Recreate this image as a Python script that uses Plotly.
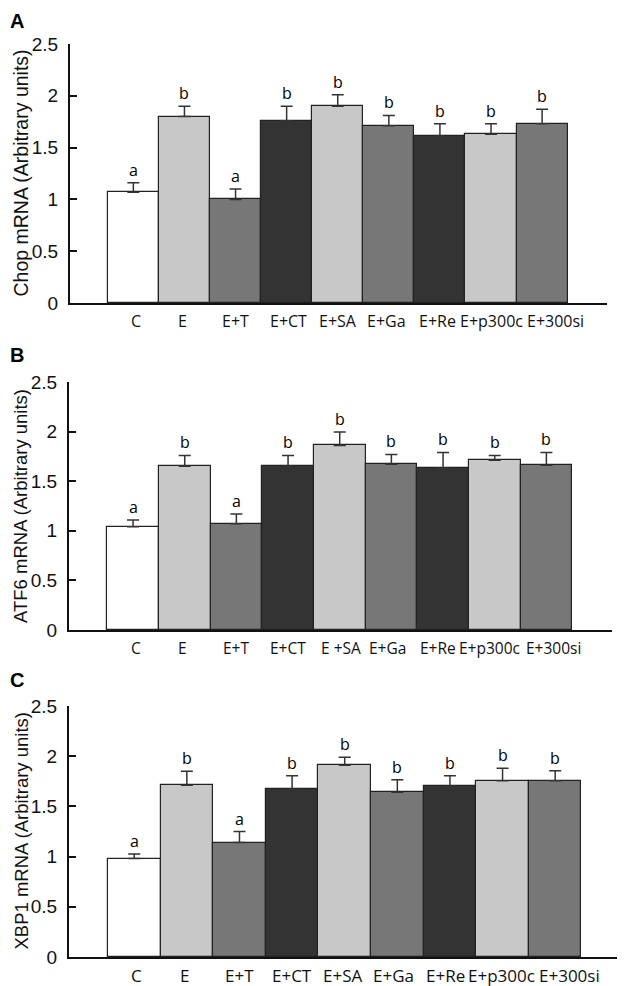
import plotly.graph_objects as go

# ── data ──────────────────────────────────────────────────────────────────────
groups = ["C", "E", "E+T", "E+CT", "E+SA", "E+Ga", "E+Re", "E+p300c", "E+300si"]
groups_b = ["C", "E", "E+T", "E+CT", "E +SA", "E+Ga", "E+Re", "E+p300c", "E+300si"]

chop = [1.07, 1.80, 1.00, 1.76, 1.90, 1.71, 1.61, 1.63, 1.73]
chop_err = [0.09, 0.10, 0.10, 0.14, 0.11, 0.10, 0.12, 0.10, 0.14]

atf6 = [1.04, 1.65, 1.07, 1.65, 1.86, 1.67, 1.63, 1.71, 1.66]
atf6_err = [0.07, 0.11, 0.10, 0.11, 0.135, 0.10, 0.16, 0.05, 0.13]

xbp1 = [0.98, 1.71, 1.14, 1.67, 1.91, 1.64, 1.70, 1.755, 1.755]
xbp1_err = [0.045, 0.14, 0.11, 0.135, 0.08, 0.125, 0.105, 0.125, 0.10]

sig_letters = ["a", "b", "a", "b", "b", "b", "b", "b", "b"]

y_ticks = [0, 0.5, 1, 1.5, 2, 2.5]
y_ticktext = ["0", "0.5", "1", "1.5", "2", "2.5"]

# ── styling ───────────────────────────────────────────────────────────────────
BAR_COLORS = ["#ffffff", "#c8c8c8", "#777777", "#333333", "#c8c8c8",
              "#777777", "#333333", "#c8c8c8", "#777777"]
EDGE = "#222222"
ARIAL = "Liberation Sans, Arial, sans-serif"
MYRIAD = "Open Sans, sans-serif"

# hand-set label offsets (px) — the labels in the source aren't centred exactly
NUDGE_A = [3, -2, 0, 2, 0, -2, -2, 0, 13]
NUDGE_B = [3, -2, 0, 0, 1, -4, -5, -5, 7]
NUDGE_C = [2, -2, 0, 0, -2, -4, -4, -1, 14]

W, H = 625, 986
OFF = 8                        # page body margin
FW, FH = W - OFF, H - OFF


def px(p):
    return min(max((p - OFF) / FW, 0), 1)


def py(p):
    return min(max(1 - (p - OFF) / FH, 0), 1)


panels = [
    # tag, cats, values, errors, ytitle, x-domain px, y-domain px, tag y px, label size, title size, nudges
    ("A", groups, chop, chop_err, "Chop mRNA (Arbitrary units)", (70, 607), (44, 303), 21, 16, 19.5, NUDGE_A),
    ("B", groups_b, atf6, atf6_err, "ATF6 mRNA (Arbitrary units)", (69, 612), (382, 630), 355, 15.5, 18.5, NUDGE_B),
    ("C", groups, xbp1, xbp1_err, "XBP1 mRNA (Arbitrary units)", (69, 622), (706, 957), 680, 17, 18.5, NUDGE_C),
]

fig = go.Figure()
annotations = []
layout_axes = {}

for i, (tag, cats, vals, errs, ytitle, xdom, ydom, tag_y, lab_sz, tit_sz, nudges) in enumerate(panels, start=1):
    xa = "x" if i == 1 else f"x{i}"
    ya = "y" if i == 1 else f"y{i}"

    fig.add_trace(go.Bar(
        x=cats, y=vals,
        xaxis=xa, yaxis=ya,
        width=1.0,
        marker=dict(color=BAR_COLORS, line=dict(color=EDGE, width=1.2)),
        error_y=dict(type="data", array=errs, arrayminus=[0] * len(errs),
                     symmetric=False, color="#333333", thickness=1.5, width=6),
        showlegend=False,
        hoverinfo="x+y",
    ))

    for c, v, e, s in zip(cats, vals, errs, sig_letters):
        annotations.append(dict(
            x=c, y=v + e, xref=xa, yref=ya, text=s, showarrow=False,
            yanchor="bottom", yshift=0,
            font=dict(family=MYRIAD, size=16, color="#000"),
        ))

    # category labels under the bars
    for c, nudge in zip(cats, nudges):
        annotations.append(dict(
            x=c, y=0, xref=xa, yref=ya, text=c, showarrow=False,
            yanchor="top", yshift=-5, xshift=nudge,
            font=dict(family=MYRIAD, size=lab_sz, color="#111"),
        ))

    # panel tag
    annotations.append(dict(
        x=0, y=py(tag_y), xref="paper", yref="paper", text=f"<b>{tag}</b>",
        showarrow=False, xanchor="left", yanchor="middle",
        font=dict(family=ARIAL, size=20, color="#000"),
    ))
    # y title
    annotations.append(dict(
        x=px(21), y=py((ydom[0] + ydom[1]) / 2), xref="paper", yref="paper",
        text=ytitle, textangle=-90, showarrow=False,
        xanchor="center", yanchor="middle",
        font=dict(family=ARIAL, size=tit_sz, color="#111"),
    ))

    key = "" if i == 1 else str(i)
    layout_axes[f"xaxis{key}"] = dict(
        domain=[px(xdom[0]), px(xdom[1])],
        anchor=ya,
        type="category",
        range=[-1.24, 9.27],
        automargin=False,
        showline=True, linecolor="#111", linewidth=2,
        ticks="", showgrid=False, zeroline=False,
        showticklabels=False,
    )
    layout_axes[f"yaxis{key}"] = dict(
        domain=[py(ydom[1]), py(ydom[0])],
        anchor=xa,
        range=[0, 2.5],
        automargin=False,
        tickvals=y_ticks, ticktext=y_ticktext,
        showline=True, linecolor="#111", linewidth=2,
        ticks="inside", ticklen=7, tickwidth=1.5, tickcolor="#111",
        showgrid=False, zeroline=False,
        ticklabelstandoff=6,
        tickfont=dict(family=ARIAL, size=19, color="#111"),
    )

fig.update_layout(
    width=FW, height=FH,
    margin=dict(l=0, r=0, t=0, b=0),
    paper_bgcolor="white",
    plot_bgcolor="white",
    bargap=0,
    annotations=annotations,
    **layout_axes,
)

fig.write_html("out.html")
